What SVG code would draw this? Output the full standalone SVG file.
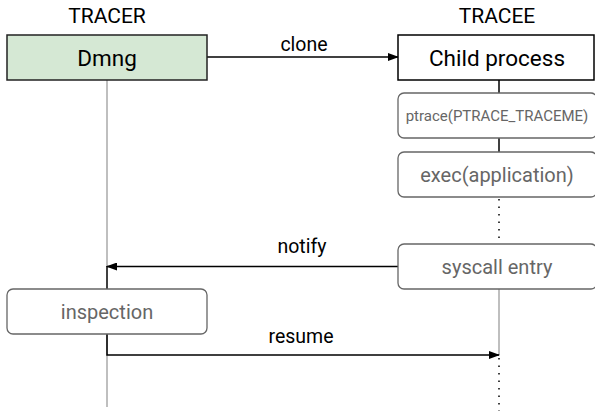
<svg xmlns="http://www.w3.org/2000/svg" width="595" height="411" viewBox="0 0 595 411">
<defs>
<marker id="arr" markerWidth="11" markerHeight="8" refX="10" refY="4" orient="auto" markerUnits="userSpaceOnUse">
<path d="M0,0 L11,4 L0,8 Z" fill="#000"/>
</marker>
<style>
text{font-family:Roboto,"Liberation Sans",sans-serif;text-anchor:middle}
.hdr{font-size:21px;fill:#000}
.main{font-size:22.5px;fill:#000}
.step rect{fill:#fff;stroke:#666;stroke-width:1.3}
.step text{fill:#666;font-size:20px}
.lbl{font-size:19.5px;fill:#000}
.life{stroke:#aaa;stroke-width:1.5;fill:none}
.solid{stroke:#000;stroke-width:1.5;fill:none}
.dot{stroke:#000;stroke-width:1.5;fill:none;stroke-dasharray:1.5 6}
</style>
</defs>
<rect width="595" height="411" fill="#fff"/>
<text class="hdr" x="107" y="23">TRACER</text>
<text class="hdr" x="497" y="23">TRACEE</text>
<g id="connectors">
<line class="life" x1="107" y1="80" x2="107" y2="267"/>
<line class="life" x1="107" y1="334" x2="107" y2="407"/>
<line class="solid" x1="499" y1="80" x2="499" y2="93"/>
<line class="solid" x1="499" y1="138" x2="499" y2="152"/>
<line class="dot" x1="499" y1="199" x2="499" y2="244"/>
<line class="life" x1="499" y1="289" x2="499" y2="355"/>
<line class="dot" x1="499" y1="358" x2="499" y2="411"/>
<line class="solid" x1="207" y1="57" x2="398" y2="57" marker-end="url(#arr)"/>
<text class="lbl" x="304" y="51">clone</text>
<line class="solid" x1="398" y1="266.5" x2="107" y2="266.5" marker-end="url(#arr)"/>
<text class="lbl" x="302" y="253">notify</text>
<line class="solid" x1="107" y1="266" x2="107" y2="289"/>
<polyline class="solid" points="107,334 107,355 499,355" marker-end="url(#arr)"/>
<text class="lbl" x="301" y="342.5">resume</text>
</g>
<g id="dmng">
<rect x="7" y="35" width="200" height="45" fill="#d5e8d4" stroke="#222" stroke-width="1.5"/>
<text class="main" x="107" y="65.5">Dmng</text>
</g>
<g id="child">
<rect x="398" y="35" width="196" height="45" fill="#fff" stroke="#000" stroke-width="1.5"/>
<text class="main" x="497" y="65.5">Child process</text>
</g>
<g id="ptrace" class="step">
<rect x="398" y="93" width="199" height="45" rx="6"/>
<text x="497" y="121" style="font-size:15px">ptrace(PTRACE_TRACEME)</text>
</g>
<g id="exec" class="step">
<rect x="398" y="152" width="199" height="45" rx="6"/>
<text x="497" y="181.5">exec(application)</text>
</g>
<g id="syscall" class="step">
<rect x="398" y="244" width="199" height="45" rx="6"/>
<text x="497" y="273.5">syscall entry</text>
</g>
<g id="inspection" class="step">
<rect x="7" y="289" width="200" height="45" rx="6"/>
<text x="107" y="318.5">inspection</text>
</g>
</svg>
